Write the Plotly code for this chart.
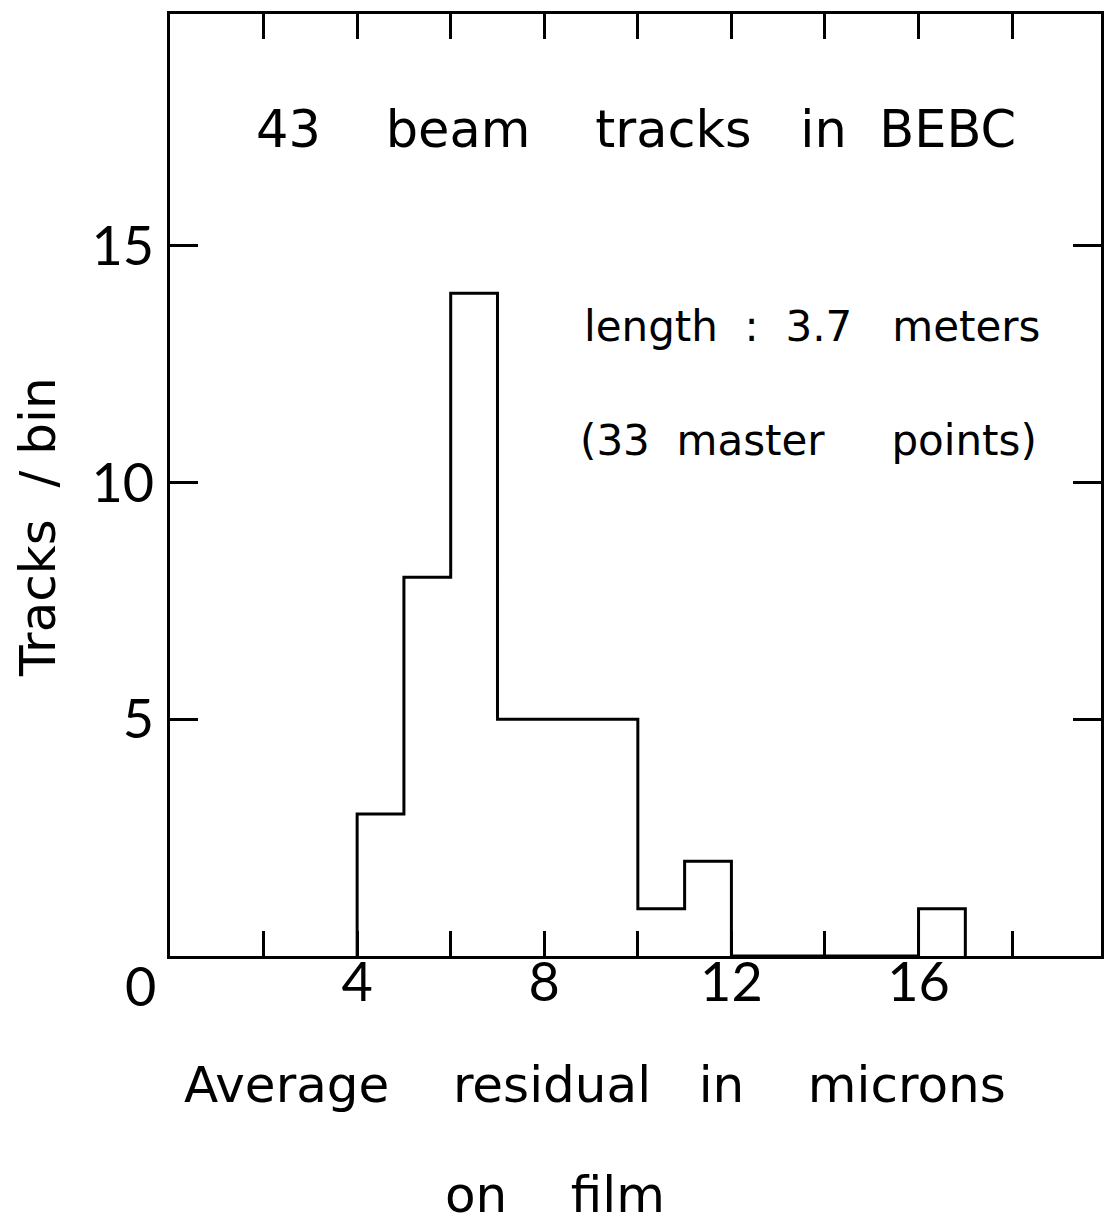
import plotly.graph_objects as go

# Data
bin_left = [4, 5, 6, 7, 8, 9, 10, 11, 12, 13, 14, 15, 16]
counts = [3, 8, 14, 5, 5, 5, 1, 2, 0, 0, 0, 0, 1]
bin_width = 1

x_tickvals = [2, 4, 6, 8, 10, 12, 14, 16, 18]
x_ticktext = ["", "4", "", "8", "", "12", "", "16", ""]
y_tickvals = [5, 10, 15]
y_ticktext = ["5", "10", "15"]

NB = "\u00a0"
title_words = ["43", "beam", "tracks", "in", "BEBC"]
note1_words = ["length", ":", "3.7", "meters"]
note2_words = ["(33", "master", "points)"]
xtitle1_words = ["Average", "residual", "in", "microns"]
xtitle2_words = ["on", "film"]
ytitle_words = ["Tracks", "/", "bin"]

FONT = "DejaVu Sans"
TICKFONT = "Liberation Sans Narrow, Lato, sans-serif"

def join(words, gaps):
    out = words[0]
    for w, g in zip(words[1:], gaps):
        out += NB * g + w
    return out

# step outline
xs = [bin_left[0]] + bin_left + [bin_left[-1] + bin_width]
ys = [0] + counts + [0]

fig = go.Figure()
fig.add_trace(go.Scatter(x=xs, y=ys, mode="lines", line=dict(color="black", width=3, shape="hv"),
                         hoverinfo="skip", showlegend=False))

axis_common = dict(showgrid=False, zeroline=False, showline=True, linecolor="black", linewidth=3,
                   ticks="inside", tickcolor="black", tickwidth=3, mirror="ticks",
                   tickfont=dict(family=TICKFONT, size=54, color="black"))

fig.update_xaxes(range=[0, 19.9], tickmode="array", tickvals=x_tickvals, ticktext=x_ticktext,
                 ticklen=25, ticklabelstandoff=-23, **axis_common)
fig.update_yaxes(range=[0, 19.9], tickmode="array", tickvals=y_tickvals, ticktext=y_ticktext,
                 ticklen=28, ticklabelstandoff=2, **axis_common)

ann_font = dict(family=FONT, color="black")
annotations = [
    dict(x=9.95, y=17.45, xref="x", yref="y", text=join(title_words, [4, 4, 3, 2]), showarrow=False,
         xanchor="center", yanchor="middle", font=dict(size=51, **ann_font)),
    dict(x=8.8, y=13.3, xref="x", yref="y", text=join(note1_words, [2, 2, 3]), showarrow=False,
         xanchor="left", yanchor="middle", font=dict(size=42, **ann_font)),
    dict(x=8.73, y=10.9, xref="x", yref="y", text=join(note2_words, [2, 5]), showarrow=False,
         xanchor="left", yanchor="middle", font=dict(size=42, **ann_font)),
    dict(x=0, y=0, xref="x", yref="y", text="0", showarrow=False, xshift=-30, yshift=-29,
         xanchor="center", yanchor="middle", font=dict(family=TICKFONT, size=54, color="black")),
    dict(x=0.457, y=-0.137, xref="paper", yref="paper", text=join(xtitle1_words, [4, 3, 4]),
         showarrow=False, xanchor="center", yanchor="middle", font=dict(size=50, **ann_font)),
    dict(x=0.413, y=-0.254, xref="paper", yref="paper", text=join(xtitle2_words, [4]),
         showarrow=False, xanchor="center", yanchor="middle", font=dict(size=50, **ann_font)),
    dict(x=-0.141, y=0.455, xref="paper", yref="paper", text=join(ytitle_words, [2, 1]),
         showarrow=False, xanchor="center", yanchor="middle", textangle=-90,
         font=dict(size=50, **ann_font)),
]

fig.update_layout(width=1112, height=1229, margin=dict(l=170, r=8, t=14, b=273),
                  paper_bgcolor="white", plot_bgcolor="white", annotations=annotations)

fig.write_html("out.html")
